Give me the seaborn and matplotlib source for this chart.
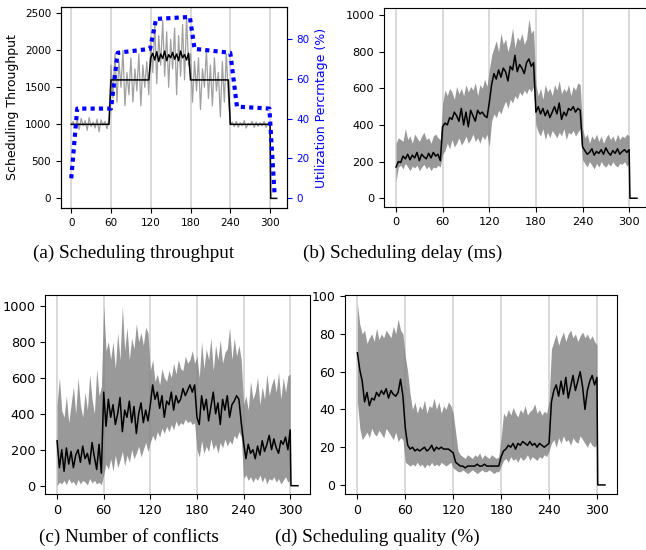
import matplotlib
matplotlib.use("Agg")
import matplotlib.pyplot as plt
import seaborn as sns

# time axis (s), sampled every 3 s, plus the flat zero tail after 300 s
t = list(range(0, 301, 3))
tail_t = [301, 310]
tail_v = [0, 0]

# (a) scheduling throughput
thr_mean = ([1000] * 20 + [1600] * 20
            + [1900, 1960, 1870, 1980, 1850, 1950, 1890, 1990, 1860, 1940,
               1900, 1970, 1880, 1950, 1860, 1990, 1900, 1940, 1870, 1960]
            + [1600] * 20 + [1000] * 21)
thr_raw = [1000, 1040, 960, 1060, 930, 1080, 980, 1050, 920, 1090, 970, 1030, 950, 1070, 900, 1060, 990, 1040, 940, 1080,
           1800, 1350, 1950, 1300, 1850, 1500, 2000, 1250, 1700, 1400, 1900, 1300, 1750, 1450, 1950, 1250, 1800, 1500, 1850, 1400,
           2100, 1700, 2350, 1550, 2200, 1800, 2400, 1650, 2250, 1500, 2150, 1750, 2300, 1400, 2200, 1650, 2350, 1600, 2450, 1800,
           1950, 1300, 1850, 1450, 1900, 1200, 1750, 1500, 2000, 1350, 1800, 1250, 1900, 1450, 1700, 1100, 1850, 1300, 1950, 1400,
           1000, 1030, 970, 1040, 960, 1020, 980, 1050, 950, 1010, 990, 1040, 960, 1030, 970, 1020, 980, 1040, 960, 1010, 1000]
util_t = [0, 9, 60, 70, 119, 128, 179, 186, 240, 250, 299, 307]
util_v = [10, 45, 45, 73, 75, 90, 91, 75, 73, 46, 45, 1]

# (b) scheduling delay (ms)
delay_mean = [170, 200, 195, 230, 215, 240, 210, 235, 220, 250, 205, 240, 225, 215, 245, 220, 250, 230, 240, 205,
              390, 410, 400, 440, 430, 470, 450, 420, 490, 400, 470, 390, 480, 450, 420, 480, 460, 470, 450, 440,
              520, 620, 680, 650, 700, 660, 710, 690, 640, 720, 700, 780, 690, 730, 710, 680, 740, 760, 720, 740,
              470, 500, 460, 490, 450, 480, 440, 470, 500, 460, 520, 430, 470, 450, 490, 480, 500, 470, 490, 480,
              280, 260, 240, 250, 270, 235, 255, 245, 265, 240, 275, 250, 235, 260, 245, 270, 240, 255, 265, 250, 265]
delay_hi = [300, 330, 320, 310, 380, 320, 340, 300, 350, 330, 310, 340, 360, 320, 330, 300, 340, 350, 330, 320,
            520, 590, 560, 600, 580, 540, 610, 570, 600, 560, 620, 580, 610, 590, 630, 560, 620, 600, 650, 610,
            700, 780, 820, 860, 800, 900, 840, 870, 800, 850, 930, 820, 880, 860, 900, 840, 870, 980, 900, 920,
            620, 560, 600, 540, 620, 580, 600, 560, 620, 590, 640, 570, 600, 580, 620, 560, 610, 590, 630, 620,
            380, 330, 350, 300, 340, 320, 350, 310, 340, 300, 330, 350, 320, 340, 310, 350, 320, 340, 330, 350, 340]
delay_lo = [90, 170, 180, 160, 190, 170, 150, 175, 165, 180, 150, 170, 185, 160, 175, 150, 170, 165, 180, 170,
            240, 260, 300, 270, 320, 280, 300, 330, 290, 310, 340, 300, 320, 350, 310, 330, 300, 340, 320, 350,
            280, 420, 460, 440, 480, 460, 500, 530, 490, 540, 520, 560, 540, 580, 560, 590, 570, 600, 580, 610,
            400, 360, 340, 380, 320, 360, 330, 370, 350, 330, 360, 340, 380, 320, 360, 350, 370, 340, 360, 380,
            210, 190, 170, 200, 180, 160, 190, 170, 200, 180, 170, 190, 175, 200, 180, 170, 190, 185, 200, 175, 190]

# (c) number of conflicts
conf_mean = [250, 100, 200, 80, 210, 120, 190, 100, 170, 200, 130, 220, 150, 180, 120, 240, 160, 90, 230, 70,
             520, 330, 480, 380, 450, 340, 400, 490, 300, 420, 380, 470, 350, 440, 290, 400, 460, 350, 420, 360,
             450, 560, 480, 520, 430, 500, 380, 470, 450, 520, 420, 500, 460, 480, 540, 500, 530, 560, 520, 560,
             380, 340, 500, 420, 480, 360, 440, 520, 400, 460, 340, 480, 420, 500, 380, 450, 470, 500, 480, 350,
             240, 150, 230, 180, 200, 150, 220, 170, 250, 190, 230, 280, 200, 260, 210, 180, 250, 230, 270, 200, 310]
conf_hi = [450, 600, 420, 380, 500, 350, 450, 550, 400, 600, 450, 380, 520, 420, 620, 480, 400, 650, 500, 550,
           1000, 750, 800, 700, 800, 650, 850, 700, 1000, 750, 880, 700, 820, 760, 900, 800, 850, 780, 880, 850,
           640, 700, 580, 620, 560, 650, 600, 580, 640, 600, 680, 620, 700, 650, 640, 720, 680, 700, 750, 680,
           720, 600, 800, 650, 760, 700, 820, 640, 780, 700, 810, 680, 740, 760, 880, 700, 820, 720, 780, 700,
           450, 500, 420, 580, 480, 520, 600, 450, 550, 480, 620, 500, 560, 600, 520, 630, 480, 600, 520, 610, 620]
conf_lo = [0, 20, 10, 30, 5, 40, 15, 25, 0, 35, 10, 30, 20, 5, 40, 15, 30, 10, 20, 5,
           60, 120, 90, 150, 80, 170, 100, 140, 190, 110, 170, 130, 200, 150, 180, 220, 160, 200, 240, 190,
           240, 280, 250, 300, 270, 320, 290, 330, 300, 340, 310, 360, 330, 350, 340, 370, 350, 360, 340, 350,
           200, 160, 250, 180, 220, 190, 260, 200, 230, 180, 240, 210, 260, 220, 250, 230, 280, 260, 300, 270,
           40, 60, 30, 50, 20, 45, 30, 60, 20, 50, 10, 40, 30, 50, 20, 40, 10, 30, 50, 20, 30]

# (d) scheduling quality (%)
qual_mean = [70, 61, 55, 44, 49, 42, 46, 45, 49, 47, 50, 48, 51, 46, 50, 48, 47, 49, 56, 47,
             30, 21, 19, 20, 18, 19, 18, 19, 20, 18, 19, 21, 18, 20, 19, 20, 19, 19, 19, 18,
             17, 12, 11, 10, 10, 9, 10, 10, 10, 10, 11, 10, 10, 11, 10, 10, 10, 10, 10, 10,
             15, 18, 19, 21, 20, 22, 19, 22, 21, 23, 22, 21, 23, 21, 22, 20, 22, 21, 20, 21,
             22, 44, 50, 53, 47, 55, 48, 57, 46, 52, 58, 50, 55, 60, 52, 40, 50, 55, 58, 53, 57]
qual_hi = [96, 85, 80, 82, 75, 78, 80, 76, 83, 77, 80, 78, 82, 80, 78, 84, 80, 88, 82, 80,
           68, 60, 48, 40, 44, 38, 42, 40, 45, 38, 42, 41, 46, 40, 44, 38, 42, 40, 44, 42,
           38, 28, 18, 16, 15, 14, 16, 15, 14, 16, 15, 17, 14, 16, 15, 14, 16, 15, 14, 15,
           25, 38, 36, 40, 37, 41, 38, 36, 40, 38, 42, 37, 39, 40, 43, 38, 40, 37, 39, 38,
           45, 72, 76, 80, 74, 78, 81, 76, 80, 82, 78, 80, 76, 79, 81, 78, 80, 77, 79, 76, 74]
qual_lo = [44, 30, 24, 26, 28, 25, 30, 27, 26, 29, 27, 25, 30, 28, 26, 24, 28, 23, 25, 24,
           12, 11, 10, 11, 10, 12, 10, 11, 9, 11, 10, 12, 10, 11, 10, 12, 11, 10, 11, 12,
           9, 8, 7, 7, 8, 7, 6, 7, 8, 7, 6, 7, 8, 7, 7, 8, 7, 6, 7, 7,
           10, 13, 14, 12, 15, 13, 14, 12, 15, 13, 14, 16, 13, 15, 14, 13, 15, 14, 16, 15,
           18, 22, 24, 20, 25, 22, 26, 23, 24, 21, 25, 23, 22, 26, 24, 22, 20, 23, 21, 20, 22]

captions = ["(a) Scheduling throughput", "(b) Scheduling delay (ms)",
            "(c) Number of conflicts", "(d) Scheduling quality (%)"]


def draw(ax, mean, ylim, yticks, fs, lo=None, hi=None, raw=None):
    for x in range(0, 301, 60):
        ax.axvline(x, color='lightgray', lw=1.2, zorder=0)
    if lo is not None:
        ax.fill_between(t, lo, hi, color='grey', alpha=0.8, lw=0)
    if raw is not None:
        sns.lineplot(x=t, y=raw, ax=ax, color='grey', alpha=0.75, lw=0.9)
    sns.lineplot(x=t + tail_t, y=mean + tail_v, ax=ax, color='black', lw=1.1)
    ax.set_xlim(-15.5, 325.5)
    ax.set_ylim(*ylim)
    ax.set_xticks(range(0, 301, 60))
    ax.set_yticks(yticks)
    ax.tick_params(labelsize=fs)
    ax.set_xlabel('')
    ax.set_ylabel('')


fig = plt.figure(figsize=(6.46, 5.5), dpi=100)

ax_a = fig.add_axes([0.0944, 0.6218, 0.3498, 0.3655])
draw(ax_a, thr_mean, (-130, 2585), range(0, 2501, 500), 7.5, raw=thr_raw)
ax_a.set_ylabel('Scheduling Throughput', fontsize=9)
ax_u = ax_a.twinx()
sns.lineplot(x=util_t, y=util_v, ax=ax_u, color='blue', lw=3, linestyle=(0, (1, 1)))
ax_u.set_ylim(-4.9, 96)
ax_u.set_yticks(range(0, 81, 20))
ax_u.tick_params(axis='y', colors='blue', labelsize=7.5)
ax_u.set_ylabel('Utilization Percrntage (%)', color='blue', fontsize=9)

ax_b = fig.add_axes([0.5944, 0.6236, 0.4102, 0.3618])
draw(ax_b, delay_mean, (-48, 1038), range(0, 1001, 200), 8.2, lo=delay_lo, hi=delay_hi)

ax_c = fig.add_axes([0.0697, 0.1018, 0.4102, 0.3618])
draw(ax_c, conf_mean, (-46, 1059), range(0, 1001, 200), 9.3, lo=conf_lo, hi=conf_hi)

ax_d = fig.add_axes([0.5341, 0.1018, 0.4215, 0.3618])
draw(ax_d, qual_mean, (-4.8, 100.6), range(0, 101, 20), 9.0, lo=qual_lo, hi=qual_hi)

cap_pos = [(134, 253), (403, 253), (129, 537), (377, 537)]
for text, (px, py) in zip(captions, cap_pos):
    fig.text(px / 646, 1 - py / 550, text, ha='center', va='center',
             family='Liberation Serif', fontsize=13.8)

fig.savefig('out.png', dpi=100)
